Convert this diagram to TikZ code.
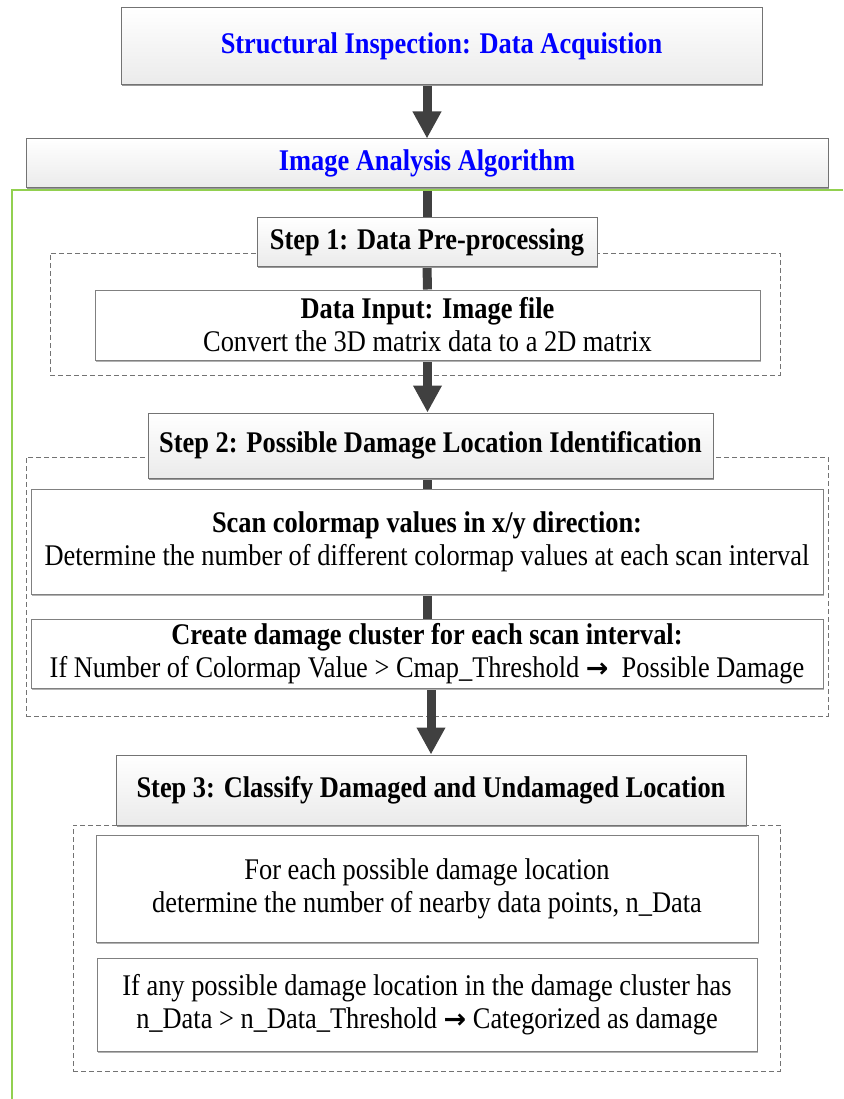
\documentclass[tikz,border=0pt]{standalone}
\usepackage{fontspec}
\setmainfont{Liberation Serif}[FakeStretch=0.88]
\newfontfamily\arrowfont{DejaVu Sans}
\usetikzlibrary{arrows.meta,backgrounds,shadows}
\definecolor{shaftgray}{HTML}{404040}
\definecolor{framegreen}{HTML}{92D050}
\newcommand{\goesto}{{\arrowfont\fontsize{27}{32}\selectfont\textbf{→}}}

\begin{document}
\begin{tikzpicture}[x=1pt,y=-1pt,
  every node/.style={font=\fontsize{30}{33}\selectfont,align=center,inner sep=0pt},
  gradbox/.style={draw=black!55,line width=1pt,top color=white,bottom color=black!8,
    drop shadow={shadow xshift=1pt,shadow yshift=-1.5pt,fill=black!40,opacity=1}},
  plainbox/.style={draw=black!50,line width=1pt,fill=white,
    drop shadow={shadow xshift=1pt,shadow yshift=-1.5pt,fill=black!30,opacity=1}},
  groupbox/.style={draw=black!55,line width=0.8pt,dash pattern=on 5pt off 3pt},
  flowline/.style={shaftgray,line width=9pt},
  flowarrow/.style={flowline,-{Triangle[width=27pt,length=27pt]}}]
  \useasboundingbox (0,0) rectangle (843,1099);
  % top of the chain
  \node[gradbox,minimum width=641,minimum height=77,text=blue] (acq) at (441.5,46.5)
    {\textbf{Structural Inspection: Data Acquistion}};
  \node[gradbox,minimum width=802,minimum height=49,text=blue] (algo) at (427,163.5)
    {\textbf{Image Analysis Algorithm}};
  \draw[framegreen,line width=2pt] (843,190) -- (12,190) -- (12,1099);
  % step 1
  \node[gradbox,minimum width=340,minimum height=48] (step1) at (427,242)
    {\textbf{Step 1: Data Pre-processing}};
  \node[plainbox,minimum width=665,minimum height=70] (input) at (427.5,325)
    {\textbf{Data Input: Image file}\\Convert the 3D matrix data to a 2D matrix};
  % step 2
  \node[gradbox,minimum width=565,minimum height=65] (step2) at (430.5,445.5)
    {\textbf{Step 2: Possible Damage Location Identification}};
  \node[plainbox,minimum width=792,minimum height=105] (scan) at (427,541.5)
    {\textbf{Scan colormap values in x/y direction:}\\Determine the number of different colormap values at each scan interval};
  \node[plainbox,minimum width=792,minimum height=69] (cluster) at (427,653.5)
    {\textbf{Create damage cluster for each scan interval:}\\If Number of Colormap Value > Cmap\_Threshold \goesto\ \ Possible Damage};
  % step 3
  \node[gradbox,minimum width=630,minimum height=70] (step3) at (431,790)
    {\textbf{Step 3: Classify Damaged and Undamaged Location}};
  \node[plainbox,minimum width=662,minimum height=107] (nearby) at (427,888.5)
    {For each possible damage location\\determine the number of nearby data points, n\_Data};
  \node[plainbox,minimum width=660,minimum height=93] (classify) at (427,1004.5)
    {If any possible damage location in the damage cluster has\\n\_Data > n\_Data\_Threshold \goesto\ Categorized as damage};
  \begin{scope}[on background layer]
    % dashed groups
    \node[groupbox,minimum width=730,minimum height=122] (grp1) at (415,314) {};
    \node[groupbox,minimum width=802,minimum height=259] (grp2) at (427,586.5) {};
    \node[groupbox,minimum width=707,minimum height=246] (grp3) at (426.5,948) {};
    % thick connectors
    \draw[flowarrow] (acq.south -| algo.north) -- (algo.north);
    \draw[flowline] (algo.south) -- (step1.north);
    \draw[flowline] (step1.south) -- (input.north);
    \draw[flowarrow] (input.south) -- (input.south |- step2.north);
    \draw[flowline] (step2.south -| scan.north) -- (scan.north);
    \draw[flowline] (scan.south) -- (cluster.north);
    \draw[flowarrow] (step3.north |- cluster.south) -- (step3.north);
  \end{scope}
\end{tikzpicture}
\end{document}
